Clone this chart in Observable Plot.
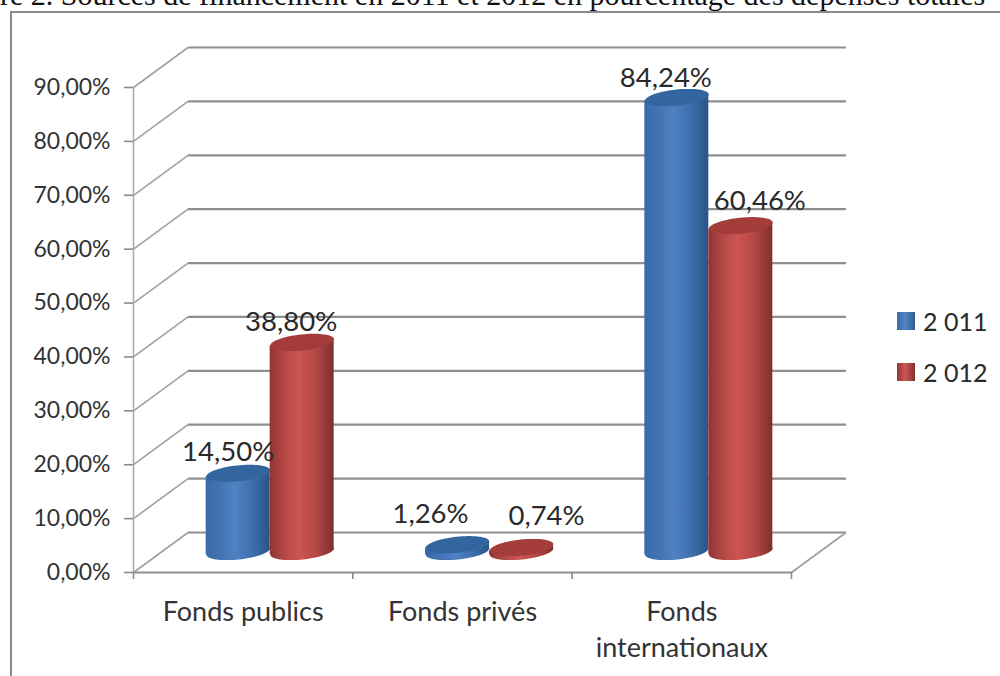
<!DOCTYPE html>
<html lang="fr">
<head>
<meta charset="utf-8">
<script src="https://cdn.jsdelivr.net/npm/d3@7"></script>
<script src="https://cdn.jsdelivr.net/npm/@observablehq/plot@0.6"></script>
<style>
  html, body { margin: 0; padding: 0; background: #fff; overflow: hidden; }
  #page { position: relative; width: 1000px; height: 676px; overflow: hidden; }
  #heading { position: absolute; left: 0; top: -22px; white-space: nowrap; color: #111;
    font: 30px "Liberation Serif", serif; z-index: 2; height: 33px; width: 1000px; overflow: hidden; }
  #box { position: absolute; left: 10px; top: 11px; right: 0; bottom: 0; z-index: 3;
    border-left: 2px solid #8a8a8a; border-top: 2px solid #8a8a8a; pointer-events: none; }
  #chart svg { display: block; }
  .legend { position: absolute; left: 897px; font: 25px Lato, sans-serif; color: #2a2a2a;
    display: flex; align-items: center; gap: 8px; height: 20px; z-index: 2; }
  .legend i { display: block; width: 18px; height: 18px; }
</style>
</head>
<body>
<div id="page">
  <div id="heading">re 2. Sources de financement en 2011 et 2012 en pourcentage des dépenses totales</div>
  <div id="box"></div>
  <div id="chart"></div>
</div>
<script>
// Funding sources, share of total spending (%)
const categories = ["Fonds publics", "Fonds privés", "Fonds\ninternationaux"];
const values2011 = [14.5, 1.26, 84.24];
const values2012 = [38.8, 0.74, 60.46];
const yearLabels = ["2 011", "2 012"];
const yTicks = [0, 10, 20, 30, 40, 50, 60, 70, 80, 90];

const fr = (v) => d3.format(".2f")(v).replace(".", ",") + "%";

// Pseudo-3D projection of the chart: the floor recedes by this much
const depthPx = [54.5, -40];
const perUnitX = 658 / 3;
const perUnitY = 485 / 90;
const depthX = depthPx[0] / perUnitX;
const depthY = -depthPx[1] / perUnitY;

// Cylinders stand half way along the floor depth
const barDx = 27;
const barDy = -21;
const barHalf = 32 / perUnitX;
const rx = 32;
const flatten = 0.25;
const tiltDeg = -6;
const tiltY = (rx * Math.sin(-tiltDeg * Math.PI / 180)) / perUnitY;

const ellipse = {
  draw(context, size) {
    const r = Math.sqrt(size / Math.PI);
    for (let k = 0; k < 72; ++k) {
      const a = (k / 72) * 2 * Math.PI;
      const px = r * Math.cos(a);
      const py = r * flatten * Math.sin(a);
      k ? context.lineTo(px, py) : context.moveTo(px, py);
    }
    context.closePath();
  }
};

// Horizontal shading of the cylinders, defined once for the whole plot
const gradients = () => {
  const defs = d3.create("svg:g");
  const d = defs.append("defs");
  const add = (id, stops) => {
    const g = d.append("linearGradient").attr("id", id);
    stops.forEach(([o, c]) => g.append("stop").attr("offset", o).attr("stop-color", c));
  };
  add("cylBlue", [[0, "#386aa8"], [0.25, "#4474b4"], [0.45, "#4f82c4"], [0.72, "#3f6fae"], [1, "#2a5488"]]);
  add("cylRed", [[0, "#8f3533"], [0.22, "#b44846"], [0.45, "#cd5553"], [0.75, "#b04543"], [1, "#7d2f2d"]]);
  return defs.node();
};

const cylinders = (values, gradient, lidColor) => {
  const rows = values.map((v, i) => ({ i, v }));
  const side = values === values2011 ? -1 : 1;
  const cx = (d) => d.i + 0.5 + side * barHalf;
  const shell = rows.flatMap((d) => [-1, 1].map((s) => ({
    key: d.i,
    x: cx(d) + s * barHalf,
    lo: s * tiltY,
    hi: d.v + s * tiltY
  })));
  const base = { r: rx, symbol: ellipse, rotate: tiltDeg, dx: barDx, dy: barDy, stroke: "none" };
  return [
    Plot.dot(rows, { ...base, x: cx, y: () => 0, fill: gradient }),
    Plot.area(shell, { x1: "x", y1: "lo", y2: "hi", z: "key", fill: gradient, dx: barDx, dy: barDy }),
    Plot.dot(rows, { ...base, x: cx, y: "v", fill: lidColor })
  ];
};

// Each value label is nudged clear of its cylinder
const valueLabels = (values, nudges) => values.map((v, i) =>
  Plot.text([v], {
    x: () => i + 0.5,
    y: (d) => d,
    text: fr,
    dx: nudges[i][0],
    dy: nudges[i][1],
    fontSize: 27.5,
    fontFamily: "Lato, sans-serif",
    fill: "#2a2a2a"
  })
);

const wallColor = "#8f8f8f";
const plot = Plot.plot({
  width: 1000,
  height: 676,
  marginLeft: 133,
  marginRight: 209,
  marginTop: 87,
  marginBottom: 104,
  style: { background: "transparent", fontFamily: "Lato, sans-serif" },
  x: { type: "linear", domain: [0, 3], axis: null },
  y: { type: "linear", domain: [0, 90], axis: null },
  marks: [
    gradients,
    // Back wall gridlines and the matching slants on the side wall
    Plot.link(yTicks, { x1: () => depthX, x2: () => 3 + depthX, y1: (d) => d + depthY, y2: (d) => d + depthY, stroke: wallColor, strokeWidth: 2.2 }),
    Plot.link(yTicks, { x1: () => 0, y1: (d) => d, x2: () => depthX, y2: (d) => d + depthY, stroke: "#a0a0a0", strokeWidth: 1.6 }),
    Plot.link([0], { x1: () => 3, y1: () => 0, x2: () => 3 + depthX, y2: () => depthY, stroke: "#a0a0a0", strokeWidth: 1.8 }),
    // Axis lines and ticks
    Plot.link([0], { x1: () => 0, x2: () => 0, y1: () => 0, y2: () => 90, stroke: "#a8a8a8", strokeWidth: 1.5 }),
    Plot.link([0], { x1: () => 0, x2: () => 3, y1: () => 0, y2: () => 0, stroke: wallColor, strokeWidth: 2 }),
    Plot.axisY(yTicks, { tickSize: 9, tickPadding: 14, tickFormat: fr, fontSize: 23, stroke: "#8a8a8a", strokeWidth: 1.6, label: null, fill: "#333", fontFamily: "Lato, sans-serif" }),
    Plot.axisX([0, 1, 2, 3], { tickSize: 7, tickFormat: () => "", stroke: "#8a8a8a", strokeWidth: 1.6, label: null }),
    // Category names under the floor
    Plot.text(categories, {
      x: (d, i) => i + 0.5,
      y: () => 0,
      dy: 23,
      lineAnchor: "top",
      lineHeight: 1.33,
      fontSize: 27,
      fontFamily: "Lato, sans-serif",
      fill: "#333"
    }),
    ...cylinders(values2011, "url(#cylBlue)", "#33659f"),
    ...cylinders(values2012, "url(#cylRed)", "#a33c3a"),
    ...valueLabels(values2011, [[-15, -42], [-32, -52], [-16, -40]]),
    ...valueLabels(values2012, [[48, -41], [84, -52], [78, -46]])
  ]
});
document.getElementById("chart").append(plot);

// Series key to the right of the plot
const page = document.getElementById("page");
[["linear-gradient(90deg,#3a6aa8,#5085c6 45%,#2f5b92)", 311], ["linear-gradient(90deg,#933634,#cd5553 45%,#85302e)", 362]].forEach(([bg, top], i) => {
  const row = document.createElement("div");
  row.className = "legend";
  row.style.top = top + "px";
  const swatch = document.createElement("i");
  swatch.style.background = bg;
  row.append(swatch, yearLabels[i]);
  page.append(row);
});
</script>
</body>
</html>
